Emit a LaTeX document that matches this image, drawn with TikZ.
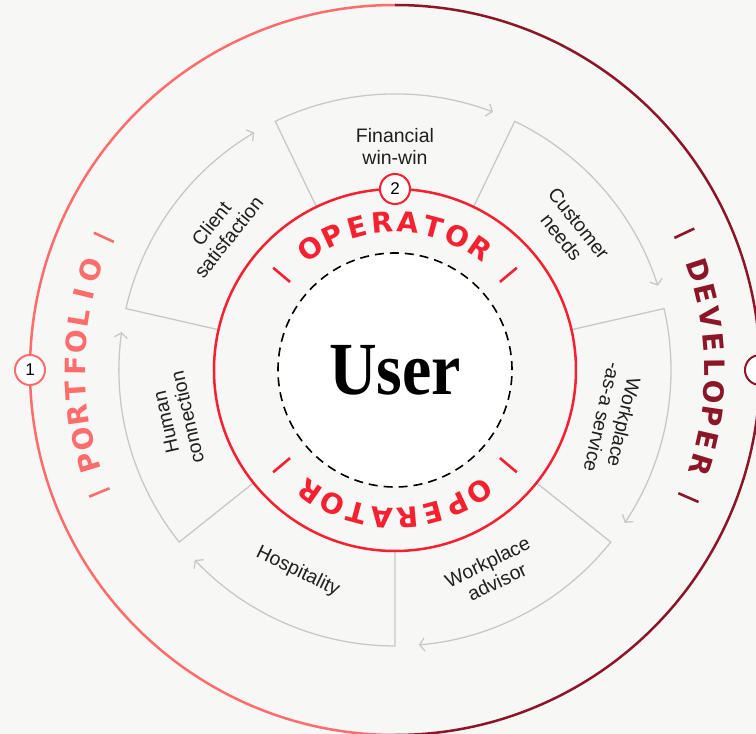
\documentclass[tikz,border=0pt]{standalone}
\usepackage{fontspec}
\setmainfont{Liberation Sans}
\newfontfamily\userfont{Liberation Serif}
\newfontfamily\capsfont{DejaVu Sans}
\usetikzlibrary{arrows.meta,calc}

\definecolor{bgcol}{RGB}{247,247,245}
\definecolor{segcol}{RGB}{200,200,198}
\definecolor{opred}{RGB}{245,32,48}
\definecolor{portred}{RGB}{255,108,108}
\definecolor{devred}{RGB}{140,22,40}

\begin{document}
\begin{tikzpicture}
	[x=1pt,y=1pt,
	seg/.style={draw=segcol,line width=1.3pt},
	segarrow/.style={seg,-{Straight Barb[length=5pt,width=13pt,line width=1.3pt]}},
	lbl/.style={font=\fontsize{19.5}{22}\selectfont,align=center,text=black!88,inner sep=0pt},
	badge/.style={shape=circle,draw,fill=white,line width=2pt,inner sep=0pt,
		minimum size=30pt,font=\fontsize{17}{17}\selectfont},
	arcword/.style={font=\capsfont\bfseries\fontsize{28}{28}\selectfont,inner sep=0pt},
	tick/.style={line width=2.6pt}]
	\clip (-395,-364) rectangle (361,370);
	\fill[bgcol] (-395,-364) rectangle (361,370);
	
	% outer ring, two halves
	\draw[portred,line width=2.5pt] (90:365) arc[start angle=90,end angle=270,radius=365];
	\draw[devred,line width=2.5pt] (-90:365) arc[start angle=-90,end angle=90,radius=365];
	
	% inner disc
	\fill[white] (0,0) circle[radius=117];
	\draw[black,line width=1.6pt,dash pattern=on 9pt off 6pt] (0,0) circle[radius=117];
	
	% the seven arrow segments
	\foreach \i in {0,...,6}
	{
		\pgfmathsetmacro\a{115.714-51.4286*\i}
		\draw[segarrow] (\a:181) -- (\a:276)
			arc[start angle=\a,end angle=\a-46.5,radius=276];
	}
	
	\foreach \ang/\rot/\nm/\txt in {
		90/0/fin/{Financial\\win-win},
		38.57/-51.43/cust/{Customer\\needs},
		-12.86/-102.86/waas/{Workplace\\-as-a service},
		-64.29/25.71/adv/{Workplace\\advisor},
		-115.71/-25.71/hosp/{Hospitality},
		192.86/102.86/hum/{Human\\connection},
		141.43/51.43/cli/{Client\\satisfaction}}
	{
		\node[lbl,rotate=\rot] (\nm) at (\ang:224) {\txt};
	}
	
	\draw[opred,line width=2.5pt] (0,0) circle[radius=181];
	
	% OPERATOR, top and bottom
	\foreach \ch [count=\k from 0] in {O,P,E,R,A,T,O,R}
	{
		\pgfmathsetmacro\t{125-10*\k}
		\node[arcword,text=opred,rotate=\t-90] (opT\k) at (\t:148) {\ch};
		\pgfmathsetmacro\b{-55-10*\k}
		\node[arcword,text=opred,rotate=\b-90] (opB\k) at (\b:148) {\ch};
	}
	\foreach \t in {140,40,-140,-40}
		\draw[opred,tick] (\t:137) -- (\t:159);
	
	% PORTFOLIO
	\foreach \ch [count=\k from 0] in {P,O,R,T,F,O,L,I,O}
	{
		\pgfmathsetmacro\t{196.8-4.37*\k}
		\node[arcword,text=portred,rotate=\t-90] (pf\k) at (\t:320) {\ch};
	}
	\foreach \t in {202.5,155.5}
		\draw[portred,tick] (\t:309) -- (\t:331);
	
	% DEVELOPER
	\foreach \ch [count=\k from 0] in {D,E,V,E,L,O,P,E,R}
	{
		\pgfmathsetmacro\t{18.2-4.42*\k}
		\node[arcword,text=devred,rotate=\t-90] (dv\k) at (\t:320) {\ch};
	}
	\foreach \t in {25.3,-23.5}
		\draw[devred,tick] (\t:309) -- (\t:331);
	
	% centre and badges
	\node[font=\userfont\bfseries\fontsize{75}{75}\selectfont,xscale=0.88] (user) at (0,0) {User};
	\node[badge,draw=portred] (b1) at (180:365) {1};
	\node[badge,draw=opred] (b2) at (90:181) {2};
	\node[badge,draw=devred] (b3) at (0:365) {3};
\end{tikzpicture}
\end{document}
